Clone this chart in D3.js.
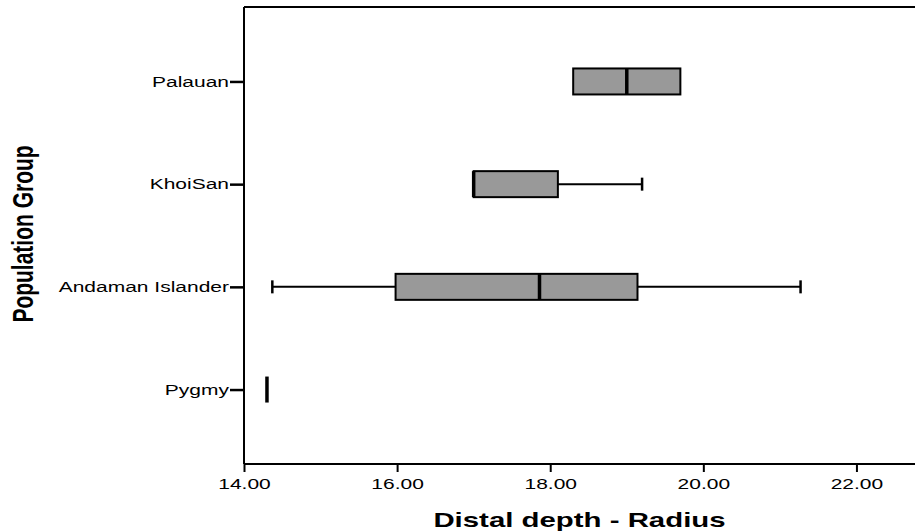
<!DOCTYPE html>
<html><head><meta charset="utf-8">
<script src="https://cdn.jsdelivr.net/npm/d3@7"></script>
<style>body{margin:0;background:#fff}svg{display:block}</style></head>
<body><svg id="c" width="915" height="532"></svg>
<script>
const categories = ["Palauan", "KhoiSan", "Andaman Islander", "Pygmy"];
const minValues = [18.3, 17.0, 14.37, 14.3];
const q1Values = [18.3, 17.0, 15.98, 14.3];
const medianValues = [19.0, 17.0, 17.86, 14.3];
const q3Values = [19.7, 18.1, 19.14, 14.3];
const maxValues = [19.7, 19.2, 21.27, 14.3];
const xTicks = [14, 16, 18, 20, 22];
const xTitle = "Distal depth - Radius";
const yTitle = "Population Group";

const svg = d3.select("#c");
const L = 244, T = 7, B = 464, R = 933;
const SX = 1.4; // horizontal stretch of the text in the original picture
const x = d3.scaleLinear().domain([14, 23]).range([L, R]);
const y = d3.scalePoint().domain(categories).range([T, B]).padding(0.725);
const font = "'Liberation Sans', Arial, sans-serif";

// frame
svg.append("line").attr("x1", L).attr("x2", R).attr("y1", T).attr("y2", T)
  .attr("stroke", "#000").attr("stroke-width", 2);

const xAxis = svg.append("g").attr("transform", `translate(0,${B})`)
  .call(d3.axisBottom(x).tickValues(xTicks).tickFormat(d3.format(".2f")).tickSize(8).tickPadding(6));
xAxis.select(".domain").attr("stroke-width", 2).attr("d", `M${L},0H${R}`);
xAxis.selectAll(".tick line").attr("stroke-width", 2);
xAxis.selectAll("text").attr("font-family", font).attr("font-size", 15).attr("fill", "#000")
  .attr("transform", `scale(${SX},1)`);

const yAxis = svg.append("g").attr("transform", `translate(${L},0)`)
  .call(d3.axisLeft(y).tickSize(14).tickPadding(1));
yAxis.select(".domain").attr("stroke-width", 2).attr("d", `M0,${T}V${B}`);
yAxis.selectAll(".tick line").attr("stroke-width", 2.5);
yAxis.selectAll("text").attr("font-family", font).attr("font-size", 15).attr("fill", "#000")
  .attr("x", -15 / SX).attr("transform", `scale(${SX},1)`);

// boxes
const boxH = 26, capH = 13;
const data = categories.map((c, i) => ({c, min: minValues[i], q1: q1Values[i], med: medianValues[i], q3: q3Values[i], max: maxValues[i]}));
const g = svg.append("g");
data.forEach(d => {
  const cy = y(d.c);
  if (d.min < d.q1) {
    g.append("line").attr("x1", x(d.min)).attr("x2", x(d.q1)).attr("y1", cy).attr("y2", cy).attr("stroke", "#000").attr("stroke-width", 2);
    g.append("line").attr("x1", x(d.min)).attr("x2", x(d.min)).attr("y1", cy - capH / 2).attr("y2", cy + capH / 2).attr("stroke", "#000").attr("stroke-width", 2.5);
  }
  if (d.max > d.q3) {
    g.append("line").attr("x1", x(d.q3)).attr("x2", x(d.max)).attr("y1", cy).attr("y2", cy).attr("stroke", "#000").attr("stroke-width", 2);
    g.append("line").attr("x1", x(d.max)).attr("x2", x(d.max)).attr("y1", cy - capH / 2).attr("y2", cy + capH / 2).attr("stroke", "#000").attr("stroke-width", 2.5);
  }
  if (d.q3 > d.q1) {
    g.append("rect").attr("x", x(d.q1)).attr("y", cy - boxH / 2).attr("width", x(d.q3) - x(d.q1)).attr("height", boxH)
      .attr("fill", "#999999").attr("stroke", "#000").attr("stroke-width", 2);
  }
  g.append("line").attr("x1", x(d.med)).attr("x2", x(d.med)).attr("y1", cy - boxH / 2).attr("y2", cy + boxH / 2)
    .attr("stroke", "#000").attr("stroke-width", 3.5);
});

// titles
svg.append("text").attr("transform", `translate(${(L + 915) / 2},527) scale(${SX},1)`).attr("text-anchor", "middle")
  .attr("font-family", "Arial, 'Liberation Sans', sans-serif").attr("font-weight", "bold").attr("font-size", 21).text(xTitle);
svg.append("text").attr("transform", `translate(33,234) scale(${SX},1) rotate(-90)`).attr("text-anchor", "middle")
  .attr("font-family", "Arial, 'Liberation Sans', sans-serif").attr("font-weight", "bold")
  .attr("font-size", 21).text(yTitle);
</script></body></html>
